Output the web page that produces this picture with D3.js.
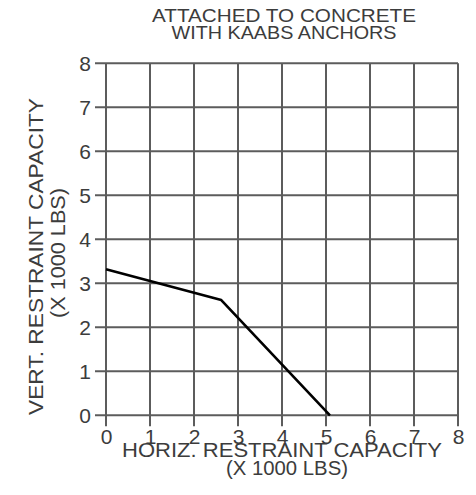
<!DOCTYPE html>
<html>
<head>
<meta charset="utf-8">
<script src="https://cdn.jsdelivr.net/npm/d3@7"></script>
<style>
  body { margin: 0; background: #fff; }
  svg text { font-family: "Liberation Sans", Arial, sans-serif; fill: #3c3c3c; }
</style>
</head>
<body>
<svg id="chart" width="476" height="495"></svg>
<script>
// capacity curve (x 1000 lbs)
const horizCapacity = [0, 2.62, 5.09];
const vertCapacity = [3.32, 2.62, 0];
const tickValues = [0, 1, 2, 3, 4, 5, 6, 7, 8];
const titleLines = ["ATTACHED TO CONCRETE", "WITH KAABS ANCHORS"];
const xLabelLines = ["HORIZ. RESTRAINT CAPACITY", "(X 1000 LBS)"];
const yLabelLines = ["VERT. RESTRAINT CAPACITY", "(X 1000 LBS)"];

const svg = d3.select("#chart");
const plotLeft = 106, plotRight = 458, plotTop = 63.3, plotBottom = 415.3;
const gridColor = "#5c5c5c";

const x = d3.scaleLinear().domain([0, 8]).range([plotLeft, plotRight]);
const y = d3.scaleLinear().domain([0, 8]).range([plotBottom, plotTop]);

//_________________ Grid (extends past the frame like ticks)
const grid = svg.append("g");
grid.selectAll(".v").data(tickValues).enter().append("line")
  .attr("x1", d => x(d)).attr("x2", d => x(d))
  .attr("y1", plotTop).attr("y2", plotBottom + 11)
  .attr("stroke", gridColor).attr("stroke-width", 2);
grid.selectAll(".h").data(tickValues).enter().append("line")
  .attr("x1", plotLeft - 11).attr("x2", plotRight)
  .attr("y1", d => y(d)).attr("y2", d => y(d))
  .attr("stroke", gridColor).attr("stroke-width", 2);

//_________________ Tick labels through axes
const xAxis = svg.append("g")
  .attr("transform", `translate(0,${plotBottom})`)
  .call(d3.axisBottom(x).tickValues(tickValues).tickSize(11).tickPadding(3).tickFormat(d3.format("d")));
const yAxis = svg.append("g")
  .attr("transform", `translate(${plotLeft},0)`)
  .call(d3.axisLeft(y).tickValues(tickValues).tickSize(11).tickPadding(4).tickFormat(d3.format("d")));
[xAxis, yAxis].forEach(a => {
  a.select(".domain").remove();
  a.selectAll(".tick line").remove();
  a.selectAll("text").attr("font-size", 21).attr("fill", "#3c3c3c")
    .attr("font-family", '"Liberation Sans", Arial, sans-serif');
});

//_________________ Curve
const line = d3.line().x(d => x(d[0])).y(d => y(d[1]));
svg.append("path")
  .datum(horizCapacity.map((h, i) => [h, vertCapacity[i]]))
  .attr("d", line)
  .attr("fill", "none")
  .attr("stroke", "#000")
  .attr("stroke-width", 2.6)
  .attr("stroke-linejoin", "round");

//_________________ Titles
const titleLen = [264, 225];
titleLines.forEach((t, i) => {
  svg.append("text")
    .attr("x", 284).attr("y", 22 + i * 17.3)
    .attr("text-anchor", "middle")
    .attr("font-size", 18)
    .attr("textLength", titleLen[i])
    .attr("lengthAdjust", "spacingAndGlyphs")
    .text(t);
});

const xLabLen = [320, 122];
const xLabX = [282, 287];
xLabelLines.forEach((t, i) => {
  svg.append("text")
    .attr("x", xLabX[i]).attr("y", 457 + i * 18)
    .attr("text-anchor", "middle")
    .attr("font-size", 20.5)
    .attr("textLength", xLabLen[i])
    .attr("lengthAdjust", "spacingAndGlyphs")
    .text(t);
});

const yLabLen = [317, 130];
const yLabPos = [[43, 256.5], [65, 253]];
yLabelLines.forEach((t, i) => {
  svg.append("text")
    .attr("transform", `translate(${yLabPos[i][0]},${yLabPos[i][1]}) rotate(-90)`)
    .attr("text-anchor", "middle")
    .attr("font-size", 20.5)
    .attr("textLength", yLabLen[i])
    .attr("lengthAdjust", "spacingAndGlyphs")
    .text(t);
});
</script>
</body>
</html>
